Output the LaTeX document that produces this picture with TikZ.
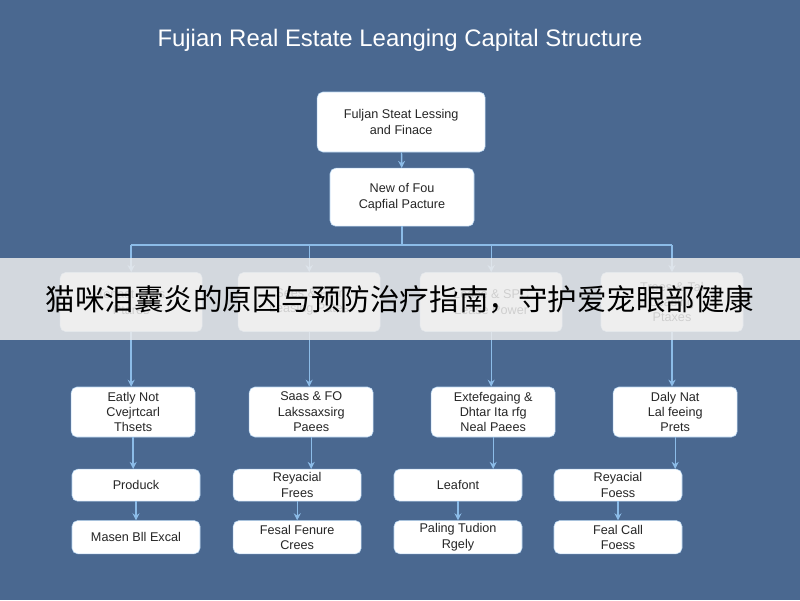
\documentclass[tikz,border=0pt]{standalone}
\usepackage{fontspec}
\setmainfont{Liberation Sans}
\newfontfamily\cjk{Noto Sans CJK SC}
\usetikzlibrary{arrows.meta}
\definecolor{bgblue}{HTML}{4A6890}
\definecolor{linkblue}{HTML}{8CBCE8}
\tikzstyle{box} = [rectangle, rounded corners=4pt, draw=linkblue!60, fill=white, text centered, font=\small, text=black!85, align=center, inner sep=2pt]
\tikzstyle{arrow} = [linkblue, line width=1pt, -{Stealth[length=5pt,width=5pt]}]
\tikzstyle{link} = [linkblue, line width=1pt]
\begin{document}
\begin{tikzpicture}
                 \fill [bgblue] (0,0) rectangle (20,-15);
                 \useasboundingbox (0,0) rectangle (20,-15);
                 \node [text=white, font=\fontsize{17}{20}\selectfont] at (10,-1) (title) {Fujian Real Estate Leanging Capital Structure};
                 \node [box, minimum width=4.2cm, minimum height=1.5cm] at (10.03,-3.05) (top) {Fuljan Steat Lessing\\and Finace};
                 \node [box, minimum width=3.6cm, minimum height=1.45cm] at (10.05,-4.93) (mid) {New of Fou\\Capfial Pacture};
                 \node [box, minimum width=3.55cm, minimum height=1.48cm] at (3.28,-7.55) (ga) {Tenast Leas\\Ptares};
                 \node [box, minimum width=3.55cm, minimum height=1.48cm] at (7.73,-7.55) (gb) {Sees \& Ferr\\Leasing Pates};
                 \node [box, minimum width=3.55cm, minimum height=1.48cm] at (12.28,-7.55) (gc) {Lease \& SPC\\Lease Power};
                 \node [box, minimum width=3.55cm, minimum height=1.48cm] at (16.8,-7.55) (gd) {Trees \& Tal\\Leasing\\Ptaxes};
                 \node [box, minimum width=3.1cm, minimum height=1.25cm] at (3.33,-10.3) (ma) {Eatly Not\\Cvejrtcarl\\Thsets};
                 \node [box, minimum width=3.1cm, minimum height=1.25cm] at (7.78,-10.3) (mb) {Saas \& FO\\Lakssaxsirg\\Paees};
                 \node [box, minimum width=3.1cm, minimum height=1.25cm] at (12.33,-10.3) (mc) {Extefegaing \&\\Dhtar Ita rfg\\Neal Paees};
                 \node [box, minimum width=3.1cm, minimum height=1.25cm] at (16.88,-10.3) (md) {Daly Nat\\Lal feeing\\Prets};
                 \node [box, minimum width=3.2cm, minimum height=0.8cm] at (3.4,-12.13) (la) {Produck};
                 \node [box, minimum width=3.2cm, minimum height=0.8cm] at (7.43,-12.13) (lb) {Reyacial\\Frees};
                 \node [box, minimum width=3.2cm, minimum height=0.8cm] at (11.45,-12.13) (lc) {Leafont};
                 \node [box, minimum width=3.2cm, minimum height=0.8cm] at (15.45,-12.13) (ld) {Reyacial\\Foess};
                 \node [box, minimum width=3.2cm, minimum height=0.83cm] at (3.4,-13.43) (ea) {Masen Bll Excal};
                 \node [box, minimum width=3.2cm, minimum height=0.83cm] at (7.43,-13.43) (eb) {Fesal Fenure\\Crees};
                 \node [box, minimum width=3.2cm, minimum height=0.83cm] at (11.45,-13.43) (ec) {Paling Tudion\\Rgely};
                 \node [box, minimum width=3.2cm, minimum height=0.83cm] at (15.45,-13.43) (ed) {Feal Call\\Foess};
                 \coordinate (bus) at (10.05,-6.125);
                 \draw [arrow] (top) -- (mid);
                 \draw [link] (mid) -- (bus);
                 \draw [link] (ga |- bus) -- (gd |- bus);
                 \foreach \g in {ga,gb,gc,gd}
                   \draw [arrow] (\g |- bus) -- (\g);
                 \foreach \g/\m in {ga/ma,gb/mb,gc/mc,gd/md}
                   \draw [arrow] (\g.south) -- (\g.south |- \m.north);
                 \foreach \m/\l in {ma/la,mb/lb,mc/lc,md/ld}
                   \draw [arrow] (\m.south) -- (\m.south |- \l.north);
                 \foreach \l/\e in {la/ea,lb/eb,lc/ec,ld/ed}
                   \draw [arrow] (\l) -- (\e);
                 % banner across the picture
                 \fill [white!85!gray, opacity=0.85] (0,-6.45) rectangle (20,-8.5);
                 \node [font=\cjk\fontsize{21}{24}\selectfont, text=black] at (10,-7.5) (banner) {猫咪泪囊炎的原因与预防治疗指南，守护爱宠眼部健康};
\end{tikzpicture}
\end{document}
